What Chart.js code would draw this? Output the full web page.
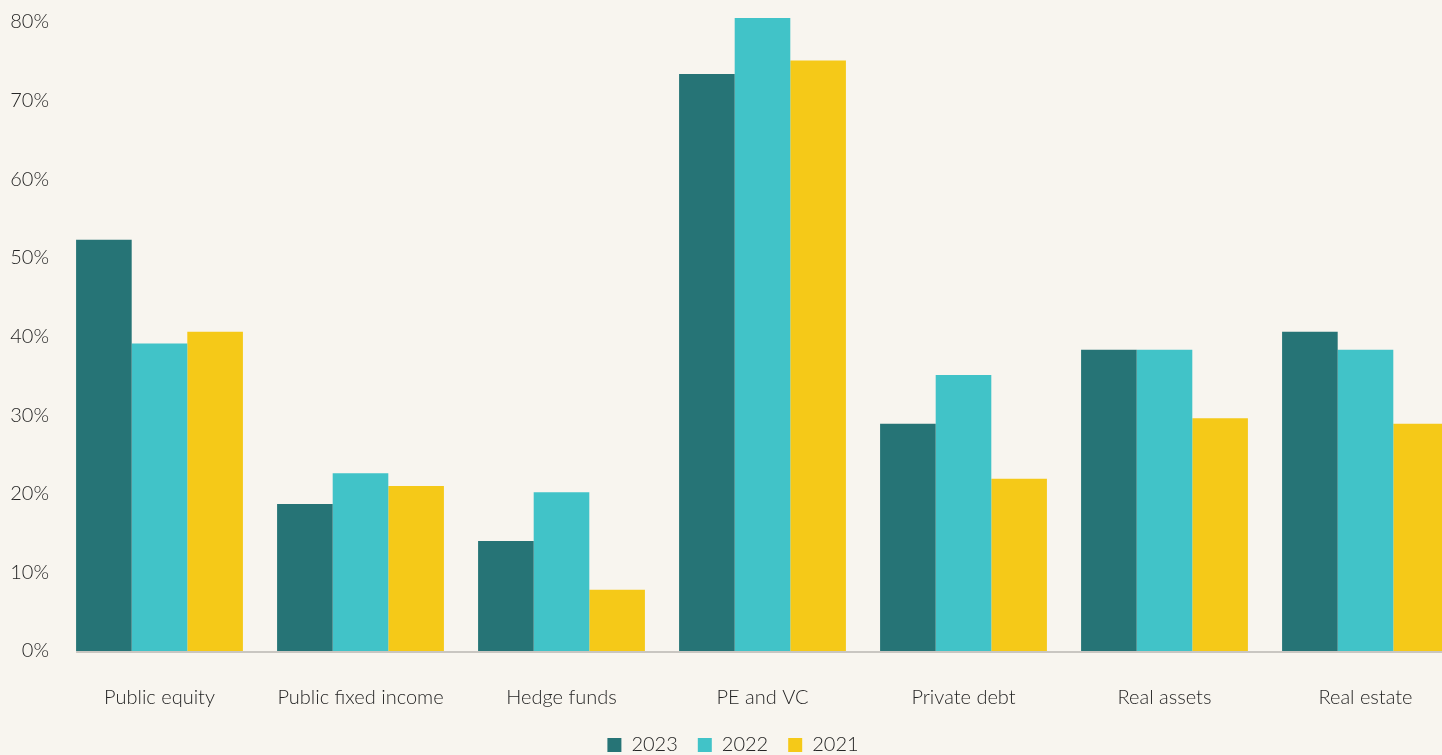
<!DOCTYPE html>
<html>
<head>
<meta charset="utf-8">
<script src="https://cdn.jsdelivr.net/npm/chart.js@4"></script>
<style>
  html, body { margin: 0; padding: 0; background: #f8f5ef; overflow: hidden; }
  #wrap { width: 1466px; height: 765px; position: relative; }
</style>
</head>
<body>
<div id="wrap"><canvas id="chart"></canvas></div>
<script>
const categories = ["Public equity", "Public fixed income", "Hedge funds", "PE and VC", "Private debt", "Real assets", "Real estate"];
const values2023 = [52.3, 18.7, 14.0, 73.4, 28.9, 38.3, 40.6];
const values2022 = [39.1, 22.6, 20.2, 80.5, 35.1, 38.3, 38.3];
const values2021 = [40.6, 21.0, 7.8, 75.1, 21.9, 29.6, 28.9];
const yTicks = [0, 10, 20, 30, 40, 50, 60, 70, 80];

Chart.defaults.font.family = "Lato, 'Open Sans', sans-serif";
Chart.defaults.font.size = 20;
Chart.defaults.font.weight = 300;
Chart.defaults.color = "#262626";

// baseline drawn from the first bar's left edge, like the original
const baseline = {
  id: "baseline",
  afterDatasetsDraw(chart) {
    const bar = chart.getDatasetMeta(0).data[0];
    const y = chart.scales.y.getPixelForValue(0);
    const ctx = chart.ctx;
    ctx.save();
    ctx.strokeStyle = "#c9c6c1";
    ctx.lineWidth = 2;
    ctx.beginPath();
    ctx.moveTo(bar.x - bar.width / 2, y + 1);
    ctx.lineTo(chart.width, y + 1);
    ctx.stroke();
    ctx.restore();
  }
};

new Chart(document.getElementById("chart"), {
  type: "bar",
  data: {
    labels: categories,
    datasets: [
      { label: "2023", data: values2023, backgroundColor: "#267476", clip: false },
      { label: "2022", data: values2022, backgroundColor: "#41c3c8", clip: false },
      { label: "2021", data: values2021, backgroundColor: "#f5c918", clip: false }
    ]
  },
  options: {
    responsive: true,
    maintainAspectRatio: false,
    animation: false,
    categoryPercentage: 0.83,
    barPercentage: 1.0,
    layout: { padding: { top: 12, right: 0, left: 0, bottom: 0 } },
    plugins: {
      tooltip: { enabled: false },
      legend: {
        position: "bottom",
        labels: { boxWidth: 14, boxHeight: 14, padding: 20, font: { size: 20 } }
      }
    },
    scales: {
      x: {
        grid: { display: false, drawTicks: false },
        border: { display: false },
        afterFit: (scale) => { scale.height = 64; },
        ticks: { padding: 35, font: { size: 20 } }
      },
      y: {
        min: 0,
        max: 80,
        grid: { display: false, drawTicks: false },
        border: { display: false },
        afterBuildTicks: (scale) => { scale.ticks = yTicks.map(v => ({ value: v })); },
        afterFit: (scale) => { scale.width = 59; },
        ticks: { padding: 10, font: { size: 20 }, callback: (v) => v + "%" }
      }
    }
  },
  plugins: [baseline]
});
</script>
</body>
</html>
